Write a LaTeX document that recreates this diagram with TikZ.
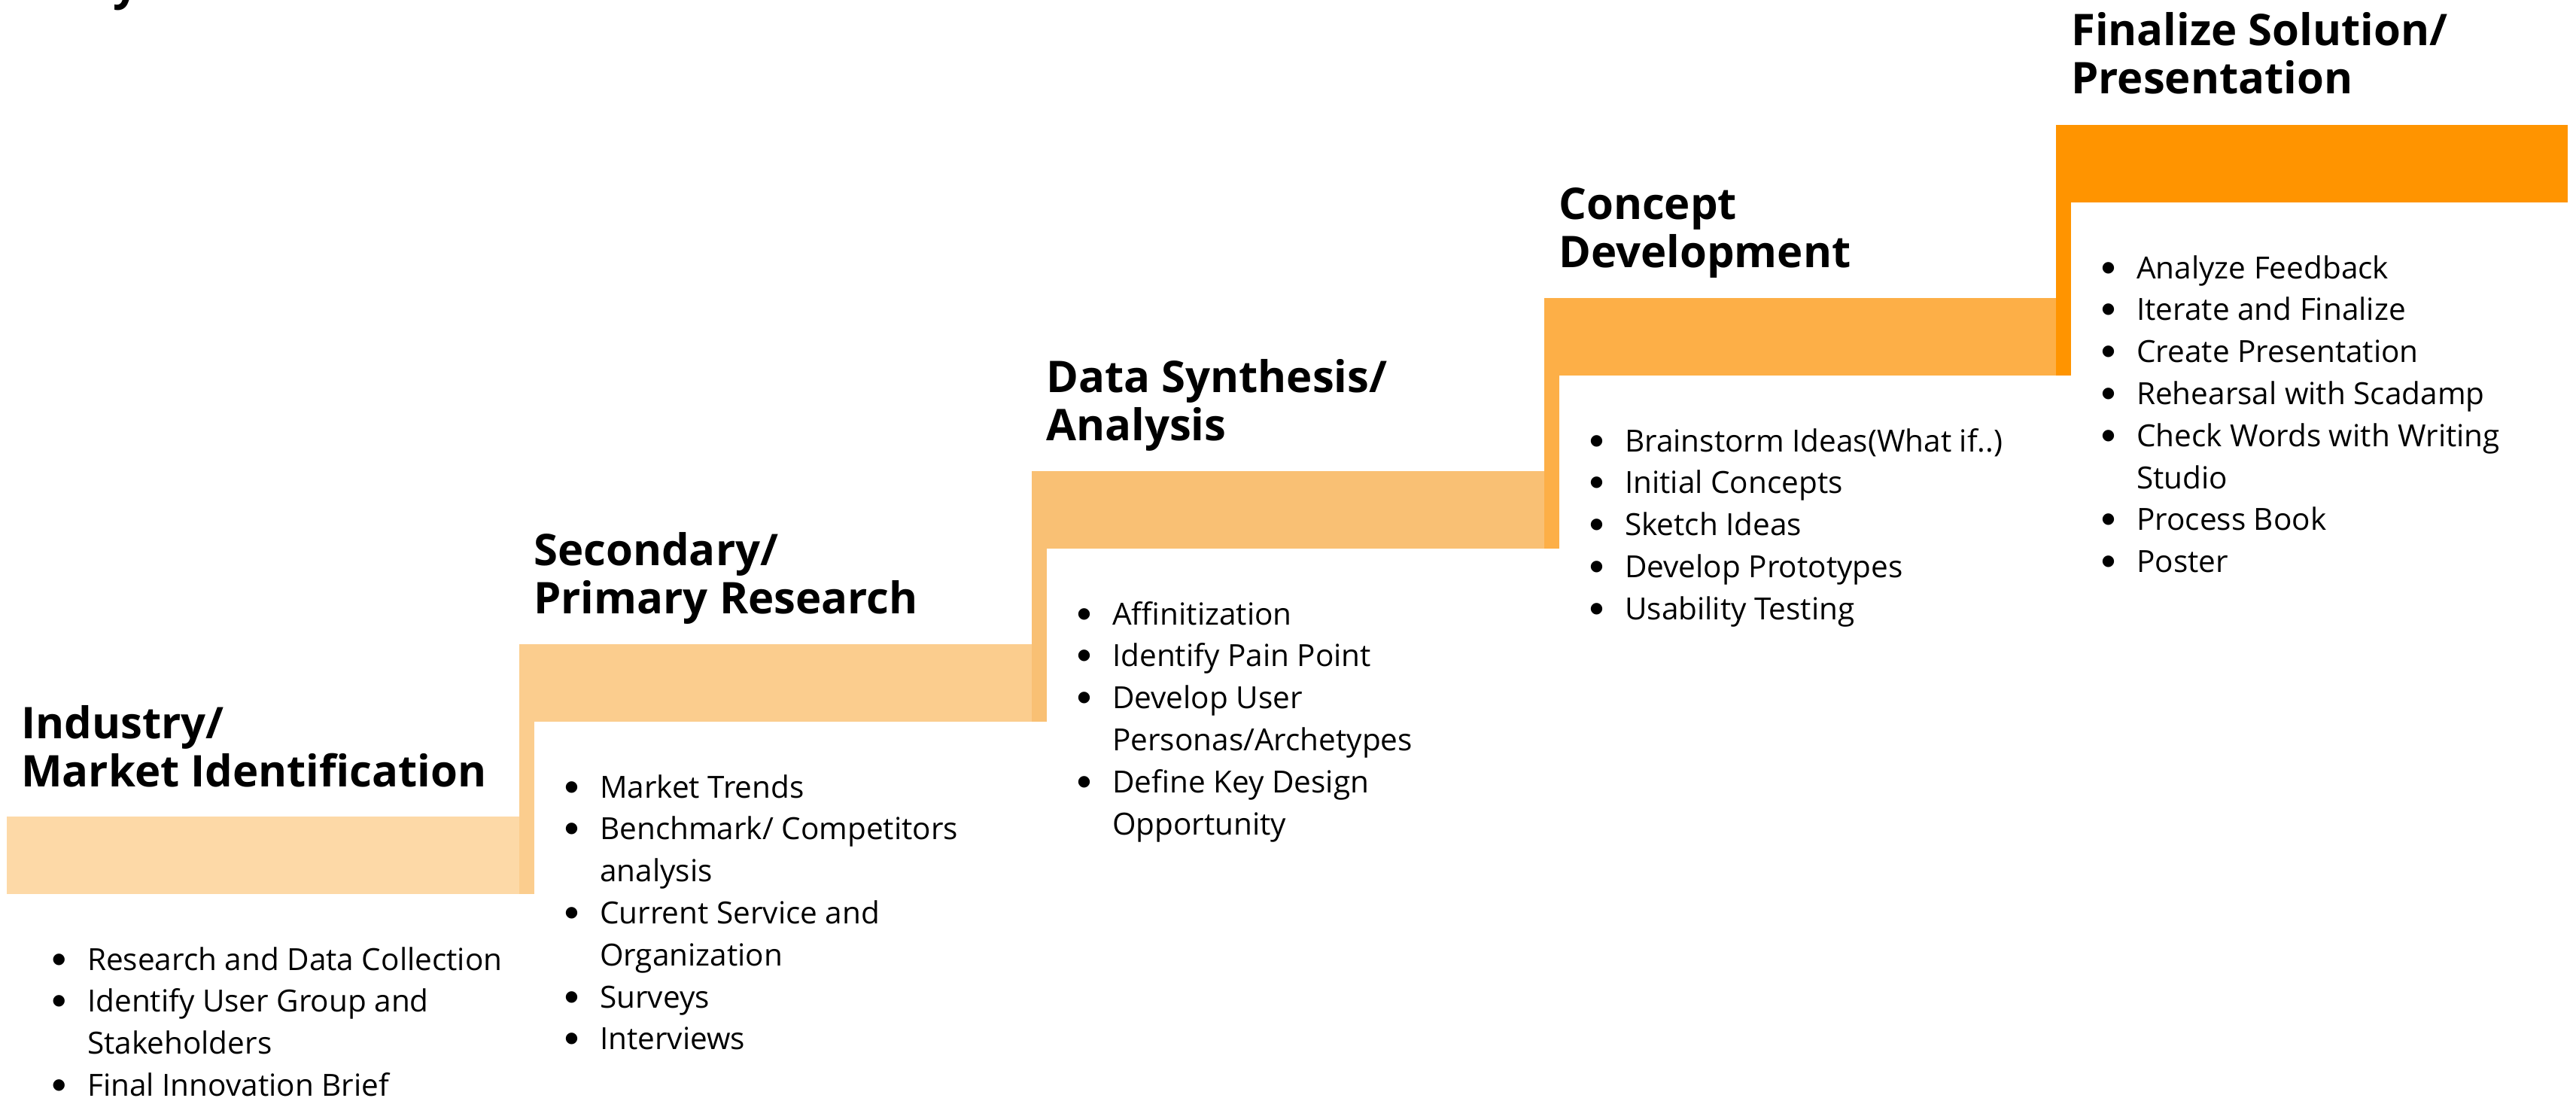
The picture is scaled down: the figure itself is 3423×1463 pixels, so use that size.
\documentclass[tikz,border=0pt]{standalone}
\usepackage{fontspec}
\setmainfont{Open Sans}
\newfontfamily\bulletfont{DejaVu Sans}
\definecolor{cA}{HTML}{FDD9A7}
\definecolor{cB}{HTML}{FBCD8E}
\definecolor{cC}{HTML}{F9C074}
\definecolor{cD}{HTML}{FDAF47}
\definecolor{cE}{HTML}{FF9400}
\newcommand\bitem{\leavevmode\llap{\raisebox{9pt}{\bulletfont\fontsize{20}{0}\selectfont ●}\hspace{29pt}}}
\tikzset{
  stitle/.style={anchor=base west, inner sep=0pt, font=\fontsize{58}{64}\selectfont\bfseries},
  slist/.style={anchor=base west, inner sep=0pt, font=\fontsize{40.5}{55.8}\selectfont},
}
\newcommand\tlines[1]{\parbox[t]{900pt}{\raggedright #1}}
\begin{document}
\begin{tikzpicture}[x=1pt,y=-1pt]
\useasboundingbox (0,0) rectangle (3423,1463);
% cut-off heading fragment at top
\begin{scope}
\clip (0,0) rectangle (3423,1463);
\node[anchor=base west, inner sep=0pt, font=\fontsize{60}{64}\selectfont\bfseries] (frag) at (150,0) {y};
\end{scope}
% steps
\fill[cA] (9,1085) rectangle (690,1188);
\fill[cB] (690,856) rectangle (1371,959);
\fill[cC] (1371,626) rectangle (2052,729);
\fill[cD] (2052,396) rectangle (2732,499);
\fill[cE] (2732,166) rectangle (3412,269);
\fill[cB] (690,856) rectangle (710,1188);
\fill[cC] (1371,626) rectangle (1391,959);
\fill[cD] (2052,396) rectangle (2072,729);
\fill[cE] (2732,166) rectangle (2752,499);
% titles
\node[stitle] (t1) at (28,981) {\tlines{Industry/\\Market Identification}};
\node[stitle] (t2) at (709,751) {\tlines{Secondary/\\Primary Research}};
\node[stitle] (t3) at (1390,521) {\tlines{Data Synthesis/\\Analysis}};
\node[stitle] (t4) at (2071,291) {\tlines{Concept\\Development}};
\node[stitle] (t5) at (2752,61) {\tlines{Finalize Solution/\\Presentation}};
% lists
\node[slist] (l1) at (116,1289) {\tlines{\bitem Research and Data Collection\\
  \bitem Identify User Group and\\ Stakeholders\\
  \bitem Final Innovation Brief}};
\node[slist] (l2) at (797,1060) {\tlines{\bitem Market Trends\\
  \bitem Benchmark/ Competitors\\ analysis\\
  \bitem Current Service and\\ Organization\\
  \bitem Surveys\\
  \bitem Interviews}};
\node[slist] (l3) at (1478,830) {\tlines{\bitem Affinitization\\
  \bitem Identify Pain Point\\
  \bitem Develop User\\ Personas/Archetypes\\
  \bitem Define Key Design\\ Opportunity}};
\node[slist] (l4) at (2159,600) {\tlines{\bitem Brainstorm Ideas(What if..)\\
  \bitem Initial Concepts\\
  \bitem Sketch Ideas\\
  \bitem Develop Prototypes\\
  \bitem Usability Testing}};
\node[slist] (l5) at (2839,370) {\tlines{\bitem Analyze Feedback\\
  \bitem Iterate and Finalize\\
  \bitem Create Presentation\\
  \bitem Rehearsal with Scadamp\\
  \bitem Check Words with Writing\\ Studio\\
  \bitem Process Book\\
  \bitem Poster}};
\end{tikzpicture}
\end{document}
